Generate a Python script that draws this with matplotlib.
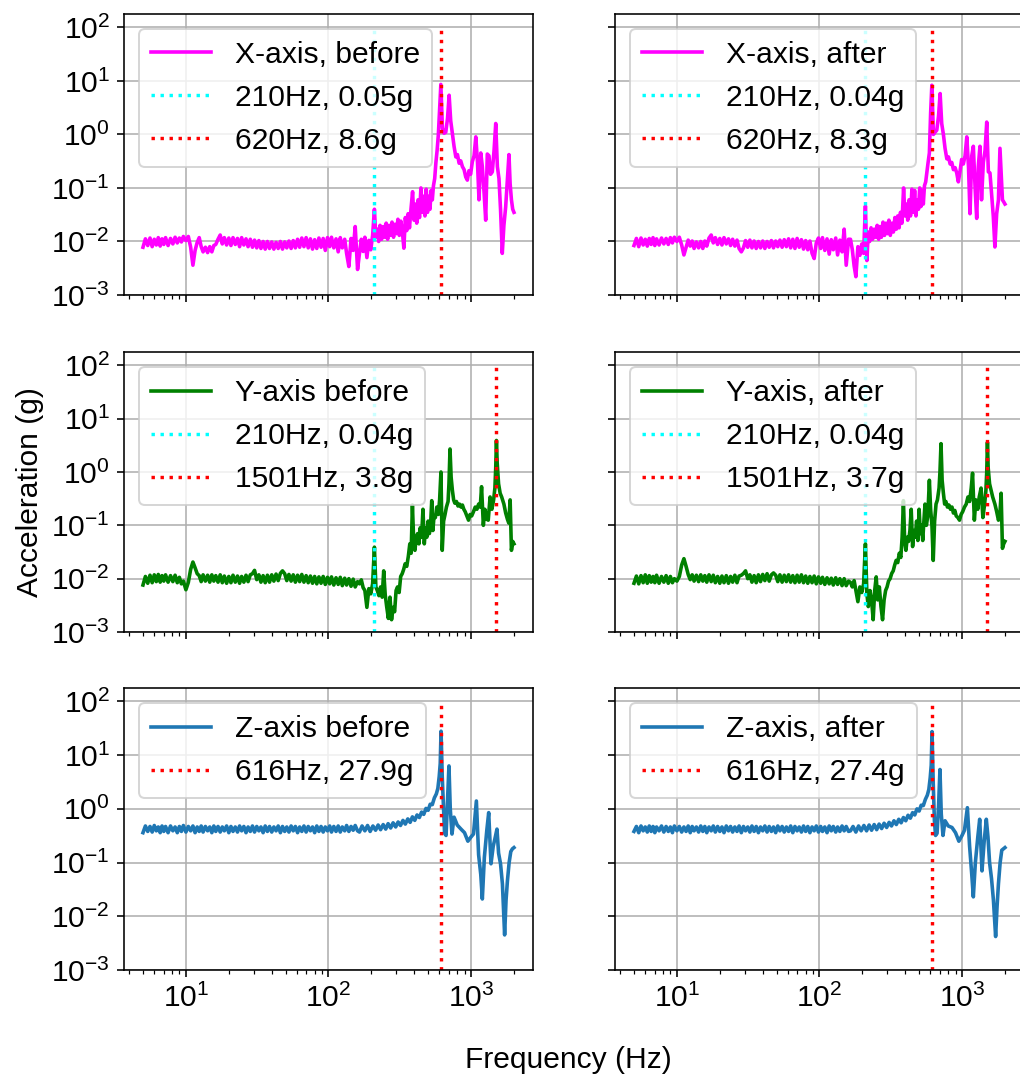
import matplotlib.pyplot as plt
from matplotlib.ticker import NullLocator

plt.rcParams['font.family'] = ['Liberation Sans', 'DejaVu Sans']
plt.rcParams['mathtext.fontset'] = 'custom'
plt.rcParams['mathtext.rm'] = 'Liberation Sans'
plt.rcParams['mathtext.it'] = 'Liberation Sans:italic'
plt.rcParams['mathtext.bf'] = 'Liberation Sans:bold'

# shared low-frequency grid (5 - 160 Hz), used by all six spectra
low_freq = [5.0, 5.2, 5.4, 5.6, 5.8, 6.0, 6.2, 6.4, 6.6, 6.8,
            7.0, 7.2, 7.5, 7.8, 8.1, 8.4, 8.7, 9.0, 9.3, 9.6,
            10.0, 10.4, 10.8, 11.2, 11.6, 12.0, 12.4, 12.8, 13.2, 13.7,
            14.2, 14.7, 15.2, 15.7, 16.2, 16.8, 17.4, 18.0, 18.6, 19.3,
            20.0, 20.7, 21.4, 22.2, 23.0, 23.8, 24.6, 25.5, 26.4, 27.3,
            28.3, 29.3, 30.3, 31.4, 32.5, 33.6, 34.8, 36.0, 37.3, 38.6,
            40.0, 41.4, 42.9, 44.4, 46.0, 47.6, 49.3, 51.0, 52.8, 54.7,
            56.6, 58.6, 60.7, 62.8, 65.0, 67.3, 69.7, 72.1, 74.7, 77.3,
            80.0, 82.8, 85.7, 88.7, 91.8, 95.0, 98.4, 102, 105, 109,
            113, 117, 121, 125, 130, 134, 139, 144, 149, 154,
            160]

# ---- X axis ----
x_low_before = [0.0078, 0.0112, 0.0084, 0.0116, 0.0080, 0.0110, 0.0086, 0.0118, 0.0082, 0.0112,
                0.0088, 0.0118, 0.0084, 0.0114, 0.0090, 0.0120, 0.0094, 0.0116, 0.0098, 0.0124,
                0.0104, 0.0124, 0.0078, 0.0036, 0.0068, 0.0096, 0.0118, 0.0080, 0.0064, 0.0078,
                0.0062, 0.0080, 0.0064, 0.0084, 0.0088, 0.0110, 0.0132, 0.0090, 0.0118, 0.0086,
                0.0116, 0.0084, 0.0118, 0.0088, 0.0114, 0.0080, 0.0118, 0.0086, 0.0112, 0.0080,
                0.0110, 0.0078, 0.0106, 0.0076, 0.0104, 0.0074, 0.0100, 0.0072, 0.0100, 0.0074,
                0.0098, 0.0072, 0.0096, 0.0074, 0.0100, 0.0072, 0.0098, 0.0076, 0.0102, 0.0074,
                0.0104, 0.0076, 0.0110, 0.0078, 0.0116, 0.0080, 0.0118, 0.0076, 0.0112, 0.0072,
                0.0108, 0.0074, 0.0116, 0.0078, 0.0114, 0.0068, 0.0118, 0.0080, 0.0120, 0.0076,
                0.0112, 0.0064, 0.0118, 0.0076, 0.0110, 0.0060, 0.0034, 0.0114, 0.0068, 0.0190,
                0.0030]
x_low_after = [0.0084, 0.0114, 0.0080, 0.0116, 0.0086, 0.0110, 0.0082, 0.0114, 0.0088, 0.0118,
               0.0084, 0.0112, 0.0086, 0.0116, 0.0090, 0.0114, 0.0088, 0.0118, 0.0094, 0.0120,
               0.0100, 0.0120, 0.0086, 0.0056, 0.0078, 0.0106, 0.0082, 0.0102, 0.0074, 0.0098,
               0.0076, 0.0100, 0.0074, 0.0102, 0.0082, 0.0116, 0.0132, 0.0094, 0.0118, 0.0088,
               0.0114, 0.0086, 0.0118, 0.0090, 0.0112, 0.0084, 0.0110, 0.0082, 0.0106, 0.0074,
               0.0064, 0.0076, 0.0104, 0.0078, 0.0106, 0.0076, 0.0102, 0.0074, 0.0100, 0.0076,
               0.0102, 0.0074, 0.0100, 0.0078, 0.0104, 0.0076, 0.0102, 0.0080, 0.0106, 0.0078,
               0.0108, 0.0080, 0.0112, 0.0076, 0.0110, 0.0074, 0.0114, 0.0078, 0.0108, 0.0072,
               0.0104, 0.0070, 0.0102, 0.0060, 0.0048, 0.0094, 0.0116, 0.0074, 0.0118, 0.0068,
               0.0112, 0.0058, 0.0108, 0.0070, 0.0116, 0.0056, 0.0106, 0.0064, 0.0170, 0.0036,
               0.0110]
x_high_freq = [165, 170, 175, 180, 186, 192, 198, 204, 210, 215,
               220, 225, 230, 236, 242, 248, 254, 260, 266, 272,
               279, 286, 293, 300, 307, 314, 322, 330, 338, 346,
               354, 362, 370, 379, 389, 398, 407, 416, 425, 435,
               445, 455, 465, 475, 485, 495, 505, 515, 525, 535,
               545, 556, 567, 578, 590, 602, 614, 630, 647, 665,
               684, 702, 720, 740, 760, 782, 803, 825, 847, 870,
               894, 918, 942, 967, 993, 1021, 1050, 1080, 1110, 1137,
               1170, 1200, 1235, 1267, 1300, 1336, 1370, 1410, 1450, 1490,
               1530, 1570, 1610, 1656, 1700, 1749, 1800, 1845, 1880, 1920,
               1960, 2000]
x_high_before = [0.0060, 0.0110, 0.0065, 0.0120, 0.0050, 0.0105, 0.0070, 0.0130, 0.0400, 0.0120,
                 0.0170, 0.0100, 0.0200, 0.0110, 0.0190, 0.0120, 0.0220, 0.0110, 0.0200, 0.0130,
                 0.0230, 0.0120, 0.0210, 0.0140, 0.0260, 0.0130, 0.0240, 0.0150, 0.0075, 0.0280,
                 0.0160, 0.0330, 0.0180, 0.0400, 0.0850, 0.0250, 0.0500, 0.0220, 0.0600, 0.0280,
                 0.1000, 0.0350, 0.0700, 0.0300, 0.0950, 0.0350, 0.0700, 0.0400, 0.0900, 0.0600,
                 0.1100, 0.1500, 0.3000, 0.5000, 1.0000, 3.0000, 8.6000, 1.3000, 1.0500, 1.1000,
                 2.0000, 5.4000, 1.8000, 1.0500, 0.6000, 0.3800, 0.4200, 0.2900, 0.3200, 0.2500,
                 0.2200, 0.1600, 0.1400, 0.2100, 0.1800, 0.3100, 0.4000, 0.9000, 0.3000, 0.0600,
                 0.4500, 0.2500, 0.0800, 0.0250, 0.4300, 0.4000, 0.1800, 0.2000, 0.5000, 1.6000,
                 0.2500, 0.1500, 0.0400, 0.0060, 0.0200, 0.0440, 0.1500, 0.4200, 0.1200, 0.0600,
                 0.0400, 0.0350]
x_high_after = [0.0110, 0.0070, 0.0035, 0.0022, 0.0080, 0.0055, 0.0090, 0.0060, 0.0460, 0.0044,
                0.0150, 0.0100, 0.0180, 0.0110, 0.0170, 0.0120, 0.0200, 0.0110, 0.0190, 0.0120,
                0.0230, 0.0130, 0.0220, 0.0140, 0.0250, 0.0130, 0.0220, 0.0150, 0.0280, 0.0170,
                0.0300, 0.0180, 0.0350, 0.0220, 0.1000, 0.0300, 0.0500, 0.0250, 0.0600, 0.0300,
                0.0950, 0.0350, 0.0900, 0.0300, 0.0600, 0.0400, 0.1000, 0.0450, 0.0900, 0.0500,
                0.1100, 0.1300, 0.2000, 0.3000, 0.4500, 2.5000, 8.3000, 1.0000, 1.1000, 1.2000,
                2.2000, 5.8000, 1.6000, 1.0000, 0.5500, 0.3500, 0.3800, 0.2800, 0.3000, 0.2200,
                0.2400, 0.1900, 0.1300, 0.2000, 0.3400, 0.2800, 0.4000, 0.9000, 0.2500, 0.0330,
                0.4000, 0.6000, 0.1000, 0.0270, 0.2500, 0.6000, 0.0600, 0.3000, 0.5000, 1.7000,
                0.2000, 0.1900, 0.0800, 0.0300, 0.0079, 0.0330, 0.0600, 0.5500, 0.2000, 0.0600,
                0.0550, 0.0500]

# ---- Y axis ----
y_low_before = [0.0076, 0.0110, 0.0082, 0.0116, 0.0084, 0.0118, 0.0088, 0.0120, 0.0086, 0.0114,
                0.0090, 0.0118, 0.0086, 0.0114, 0.0088, 0.0116, 0.0084, 0.0106, 0.0080, 0.0090,
                0.0062, 0.0085, 0.0150, 0.0205, 0.0160, 0.0124, 0.0114, 0.0088, 0.0118, 0.0090,
                0.0116, 0.0086, 0.0118, 0.0090, 0.0114, 0.0086, 0.0118, 0.0084, 0.0112, 0.0082,
                0.0110, 0.0084, 0.0116, 0.0086, 0.0112, 0.0082, 0.0110, 0.0086, 0.0116, 0.0088,
                0.0118, 0.0124, 0.0143, 0.0096, 0.0118, 0.0086, 0.0114, 0.0084, 0.0116, 0.0086,
                0.0118, 0.0090, 0.0122, 0.0092, 0.0126, 0.0140, 0.0124, 0.0092, 0.0120, 0.0090,
                0.0118, 0.0086, 0.0116, 0.0088, 0.0120, 0.0086, 0.0114, 0.0084, 0.0112, 0.0082,
                0.0110, 0.0080, 0.0108, 0.0082, 0.0110, 0.0078, 0.0106, 0.0080, 0.0108, 0.0076,
                0.0104, 0.0078, 0.0106, 0.0074, 0.0102, 0.0076, 0.0100, 0.0072, 0.0098, 0.0070,
                0.0088]
y_low_after = [0.0082, 0.0112, 0.0080, 0.0114, 0.0084, 0.0118, 0.0082, 0.0114, 0.0086, 0.0110,
               0.0084, 0.0116, 0.0082, 0.0110, 0.0086, 0.0114, 0.0082, 0.0110, 0.0084, 0.0100,
               0.0090, 0.0110, 0.0180, 0.0237, 0.0170, 0.0120, 0.0096, 0.0118, 0.0090, 0.0116,
               0.0088, 0.0118, 0.0090, 0.0114, 0.0086, 0.0118, 0.0088, 0.0116, 0.0084, 0.0110,
               0.0082, 0.0112, 0.0084, 0.0114, 0.0082, 0.0110, 0.0086, 0.0116, 0.0084, 0.0112,
               0.0116, 0.0125, 0.0140, 0.0100, 0.0118, 0.0086, 0.0114, 0.0084, 0.0118, 0.0088,
               0.0120, 0.0092, 0.0124, 0.0090, 0.0118, 0.0128, 0.0116, 0.0088, 0.0118, 0.0086,
               0.0116, 0.0088, 0.0118, 0.0086, 0.0114, 0.0084, 0.0116, 0.0086, 0.0118, 0.0084,
               0.0112, 0.0082, 0.0110, 0.0084, 0.0112, 0.0080, 0.0108, 0.0082, 0.0106, 0.0078,
               0.0104, 0.0080, 0.0102, 0.0076, 0.0104, 0.0078, 0.0100, 0.0074, 0.0100, 0.0074,
               0.0090]
y_high_freq = [165, 170, 175, 180, 186, 192, 198, 204, 210, 215,
               220, 226, 232, 238, 244, 250, 256, 263, 270, 277,
               284, 291, 298, 305, 313, 321, 329, 337, 345, 354,
               363, 372, 380, 388, 396, 404, 413, 422, 431, 440,
               450, 460, 470, 480, 490, 500, 510, 520, 530, 540,
               550, 562, 575, 590, 602, 615, 628, 642, 657, 672,
               690, 700, 712, 725, 740, 755, 770, 790, 810, 830,
               850, 870, 890, 910, 935, 960, 985, 1010, 1040, 1070,
               1100, 1130, 1160, 1185, 1220, 1250, 1290, 1320, 1360, 1400,
               1440, 1470, 1490, 1507, 1525, 1560, 1600, 1640, 1700, 1750,
               1800, 1840, 1880, 1920, 1960, 2000]
y_high_before = [0.0080, 0.0095, 0.0068, 0.0060, 0.0029, 0.0065, 0.0052, 0.0080, 0.0390, 0.0070,
                 0.0060, 0.0048, 0.0070, 0.0045, 0.0140, 0.0050, 0.0030, 0.0018, 0.0045, 0.0017,
                 0.0029, 0.0024, 0.0060, 0.0070, 0.0055, 0.0110, 0.0124, 0.0150, 0.0190, 0.0170,
                 0.0260, 0.0450, 0.0300, 0.2400, 0.0500, 0.0340, 0.0600, 0.0700, 0.0450, 0.0900,
                 0.0600, 0.2000, 0.0450, 0.0900, 0.0600, 0.1200, 0.0700, 0.1000, 0.2900, 0.0800,
                 0.1500, 0.1400, 0.2200, 0.1600, 0.3000, 1.0000, 0.0340, 0.1200, 0.1600, 0.2200,
                 0.2800, 0.6000, 2.7000, 0.8000, 0.4500, 0.3000, 0.2600, 0.2800, 0.2300, 0.2500,
                 0.2200, 0.2400, 0.2000, 0.1800, 0.1500, 0.1250, 0.1600, 0.1500, 0.1800, 0.2200,
                 0.2000, 0.2500, 0.2200, 0.5300, 0.1000, 0.2000, 0.1300, 0.1250, 0.3400, 0.2000,
                 0.3000, 0.5000, 1.2000, 3.9000, 1.5000, 0.6000, 0.4000, 0.3400, 0.2500, 0.1700,
                 0.1300, 0.1100, 0.3000, 0.0340, 0.0500, 0.0450]
y_high_after = [0.0085, 0.0070, 0.0092, 0.0060, 0.0037, 0.0070, 0.0055, 0.0080, 0.0450, 0.0052,
                0.0030, 0.0060, 0.0040, 0.0017, 0.0060, 0.0108, 0.0040, 0.0070, 0.0030, 0.0017,
                0.0040, 0.0060, 0.0070, 0.0090, 0.0100, 0.0125, 0.0140, 0.0180, 0.0220, 0.0200,
                0.0300, 0.0250, 0.0600, 0.2900, 0.0500, 0.0340, 0.0600, 0.0500, 0.0800, 0.2000,
                0.0400, 0.0800, 0.0600, 0.1200, 0.0520, 0.2000, 0.0700, 0.1000, 0.0520, 0.1200,
                0.2500, 0.1000, 0.1500, 0.7000, 0.2000, 0.1000, 0.0220, 0.1200, 0.2500, 0.3000,
                0.5000, 1.0000, 3.4000, 0.7000, 0.4000, 0.2500, 0.2800, 0.2200, 0.2400, 0.2000,
                0.2200, 0.1700, 0.1900, 0.1500, 0.1400, 0.1250, 0.1600, 0.1800, 0.2200, 0.2500,
                0.3400, 0.2800, 0.5000, 0.9500, 0.1250, 0.3000, 0.2000, 0.3400, 0.5000, 0.1400,
                0.2500, 0.4500, 1.0000, 3.6000, 1.2000, 0.6000, 0.4500, 0.3400, 0.2500, 0.1800,
                0.1250, 0.1500, 0.4000, 0.0370, 0.0450, 0.0500]

# ---- Z axis ----
z_low_before = [0.36, 0.48, 0.38, 0.47, 0.37, 0.49, 0.39, 0.46, 0.36, 0.48,
                0.38, 0.47, 0.36, 0.48, 0.39, 0.46, 0.36, 0.47, 0.38, 0.49,
                0.37, 0.47, 0.39, 0.48, 0.36, 0.46, 0.38, 0.48, 0.37, 0.47,
                0.39, 0.46, 0.36, 0.48, 0.38, 0.47, 0.37, 0.46, 0.39, 0.48,
                0.36, 0.47, 0.38, 0.46, 0.37, 0.48, 0.39, 0.47, 0.36, 0.46,
                0.38, 0.48, 0.37, 0.47, 0.39, 0.46, 0.36, 0.48, 0.38, 0.47,
                0.37, 0.46, 0.39, 0.48, 0.36, 0.47, 0.38, 0.46, 0.37, 0.48,
                0.39, 0.47, 0.36, 0.46, 0.38, 0.48, 0.37, 0.47, 0.39, 0.46,
                0.36, 0.48, 0.38, 0.47, 0.37, 0.46, 0.39, 0.48, 0.37, 0.47,
                0.38, 0.48, 0.37, 0.46, 0.39, 0.49, 0.38, 0.47, 0.40, 0.49,
                0.39]
z_low_after = [0.38, 0.47, 0.36, 0.48, 0.39, 0.46, 0.37, 0.48, 0.38, 0.47,
               0.36, 0.46, 0.39, 0.48, 0.37, 0.47, 0.38, 0.46, 0.36, 0.48,
               0.39, 0.47, 0.37, 0.46, 0.38, 0.48, 0.36, 0.47, 0.39, 0.46,
               0.37, 0.48, 0.38, 0.47, 0.36, 0.46, 0.39, 0.48, 0.37, 0.47,
               0.38, 0.46, 0.36, 0.48, 0.39, 0.47, 0.37, 0.46, 0.38, 0.48,
               0.36, 0.47, 0.39, 0.46, 0.37, 0.48, 0.38, 0.47, 0.36, 0.46,
               0.39, 0.48, 0.37, 0.47, 0.38, 0.46, 0.36, 0.48, 0.39, 0.47,
               0.37, 0.46, 0.38, 0.48, 0.36, 0.47, 0.39, 0.46, 0.37, 0.48,
               0.38, 0.47, 0.36, 0.46, 0.39, 0.48, 0.37, 0.47, 0.38, 0.46,
               0.36, 0.48, 0.39, 0.47, 0.37, 0.46, 0.38, 0.48, 0.39, 0.47,
               0.38]
z_high_freq = [165, 172, 180, 188, 196, 205, 214, 223, 232, 242,
               252, 262, 273, 284, 296, 308, 320, 333, 346, 360,
               374, 388, 403, 418, 434, 450, 466, 483, 500, 517,
               535, 553, 571, 585, 598, 608, 616, 628, 640, 652,
               668, 685, 700, 715, 735, 760, 800, 850, 900, 950,
               1000, 1040, 1090, 1130, 1170, 1200, 1240, 1290, 1330, 1380,
               1430, 1480, 1520, 1560, 1610, 1660, 1720, 1760, 1800, 1850,
               1900, 1950, 2000]
z_high_before = [0.37, 0.48, 0.39, 0.49, 0.38, 0.48, 0.40, 0.50, 0.41, 0.51,
                 0.42, 0.53, 0.44, 0.55, 0.46, 0.57, 0.49, 0.61, 0.52, 0.65,
                 0.56, 0.71, 0.61, 0.77, 0.69, 0.87, 0.79, 1.02, 0.94, 1.22,
                 1.20, 1.60, 1.90, 2.40, 4.00, 7.00, 27.9, 4.00, 1.20, 0.35,
                 0.32, 1.50, 6.30, 1.00, 0.34, 0.70, 0.50, 0.42, 0.36, 0.25,
                 0.30, 0.34, 1.40, 0.14, 0.06, 0.021, 0.125, 0.40, 0.85, 0.095,
                 0.20, 0.30, 0.42, 0.15, 0.095, 0.04, 0.0045, 0.02, 0.046, 0.10,
                 0.16, 0.18, 0.19]
z_high_after = [0.39, 0.47, 0.37, 0.48, 0.39, 0.49, 0.39, 0.50, 0.40, 0.51,
                0.41, 0.52, 0.43, 0.54, 0.45, 0.56, 0.48, 0.60, 0.51, 0.64,
                0.55, 0.69, 0.60, 0.76, 0.67, 0.85, 0.77, 1.00, 0.91, 1.17,
                1.15, 1.50, 1.80, 2.30, 3.80, 6.50, 27.4, 3.00, 0.60, 0.32,
                0.35, 1.20, 5.40, 0.80, 0.32, 0.60, 0.48, 0.45, 0.36, 0.25,
                0.32, 0.40, 1.05, 0.20, 0.06, 0.023, 0.10, 0.30, 0.64, 0.07,
                0.25, 0.64, 0.30, 0.10, 0.05, 0.02, 0.0042, 0.015, 0.04, 0.10,
                0.17, 0.18, 0.19]

# marker lines: (frequency, colour, legend text)
x_before_marks = [(210, 'cyan', '210Hz, 0.05g'), (620, 'red', '620Hz, 8.6g')]
x_after_marks = [(210, 'cyan', '210Hz, 0.04g'), (620, 'red', '620Hz, 8.3g')]
y_before_marks = [(210, 'cyan', '210Hz, 0.04g'), (1501, 'red', '1501Hz, 3.8g')]
y_after_marks = [(210, 'cyan', '210Hz, 0.04g'), (1501, 'red', '1501Hz, 3.7g')]
z_before_marks = [(616, 'red', '616Hz, 27.9g')]
z_after_marks = [(616, 'red', '616Hz, 27.4g')]

panels = [
    [(x_high_freq, x_low_before, x_high_before, 'magenta', 'X-axis, before', x_before_marks),
     (x_high_freq, x_low_after, x_high_after, 'magenta', 'X-axis, after', x_after_marks)],
    [(y_high_freq, y_low_before, y_high_before, 'green', 'Y-axis before', y_before_marks),
     (y_high_freq, y_low_after, y_high_after, 'green', 'Y-axis, after', y_after_marks)],
    [(z_high_freq, z_low_before, z_high_before, '#1f77b4', 'Z-axis before', z_before_marks),
     (z_high_freq, z_low_after, z_high_after, '#1f77b4', 'Z-axis, after', z_after_marks)],
]

W, H = 1020, 1086
fig = plt.figure(figsize=(W / 144, H / 144), dpi=144)

col_px = [(124, 533), (615, 1024)]
row_px = [(14, 295), (352, 632), (688, 970)]

first = None
for r, row in enumerate(panels):
    for c, (hf, lo, hi, color, label, marks) in enumerate(row):
        x0, x1 = col_px[c]
        y0, y1 = row_px[r]
        rect = [x0 / W, 1 - y1 / H, (x1 - x0) / W, (y1 - y0) / H]
        ax = fig.add_axes(rect, sharex=first, sharey=first)
        if first is None:
            first = ax
        ax.set_xscale('log')
        ax.set_yscale('log')
        ax.plot(low_freq + hf, lo + hi, color=color, lw=1.8, label=label)
        for f, mc, mtxt in marks:
            ax.vlines(f, 1e-3, 1e2, colors=mc, linestyles=':', lw=1.7, label=mtxt)
        ax.grid(True, which='major')
        ax.legend(loc='upper left', fontsize=15)
        ax.tick_params(labelsize=15)
        if r < 2:
            ax.tick_params(labelbottom=False)
        if c > 0:
            ax.tick_params(labelleft=False)

first.set_xlim(3.68, 2720)
first.set_ylim(1e-3, 10 ** 2.25)
first.set_yticks([1e-3, 1e-2, 1e-1, 1e0, 1e1, 1e2])
first.yaxis.set_minor_locator(NullLocator())

fig.text(30 / W, 1 - 492 / H, 'Acceleration (g)', rotation=90,
         ha='center', va='center', fontsize=15)
fig.text(568 / W, 1 - 1060 / H, 'Frequency (Hz)', ha='center', va='center', fontsize=15)

fig.savefig('out.png', dpi=144)
